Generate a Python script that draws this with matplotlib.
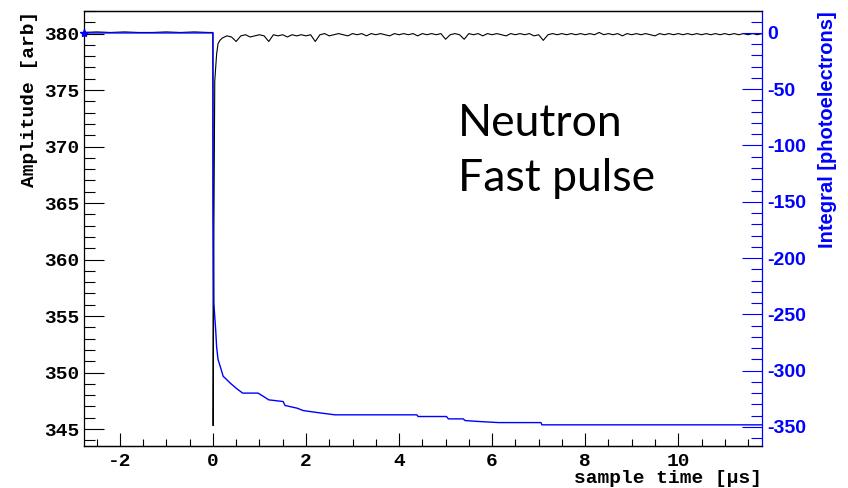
import numpy as np
import matplotlib
matplotlib.use("Agg")
import matplotlib.pyplot as plt
from matplotlib.ticker import MultipleLocator

plt.rcParams["axes.unicode_minus"] = False

# waveform (black), amplitude in arb units
pre_t = [-2.77, -2.5, -2.2, -1.9, -1.6, -1.3, -1.0, -0.7, -0.4, -0.1, 0.0]
pre_v = [380.1, 380.15, 380.1, 380.15, 380.1, 380.1, 380.15, 380.1, 380.15, 380.1, 380.1]

pulse_t = [0.005, 0.02, 0.04, 0.08, 0.11, 0.15]
pulse_v = [345.3, 362.0, 375.8, 378.2, 379.1, 379.4]

tail_t = np.round(np.arange(0.2, 11.85, 0.1), 2)
tail_v = [
    379.6, 379.8, 379.7, 379.3, 379.8, 379.9, 379.7, 379.8, 379.9,
    379.8, 379.3, 379.9, 379.8, 379.9, 379.7, 379.9, 379.8, 379.9, 379.8,
    379.9, 379.3, 379.9, 380.0, 379.8, 379.9, 380.0, 379.9, 379.8, 380.0,
    379.9, 380.0, 379.8, 380.0, 379.9, 380.0, 379.9, 379.8, 380.0, 379.9,
    380.0, 379.9, 380.0, 379.8, 380.0, 379.9, 380.0, 379.9, 380.0, 379.5,
    379.9, 380.0, 379.9, 379.5, 380.0, 379.9, 380.0, 379.8, 380.0, 379.9,
    380.0, 379.9, 379.8, 380.0, 379.9, 380.0, 379.9, 380.0, 379.8, 379.9,
    379.4, 379.9, 380.0, 379.9, 380.0, 379.9, 380.0, 379.9, 380.0, 379.9,
    380.0, 379.9, 380.1, 379.9, 380.0, 379.9, 380.0, 379.8, 380.0, 379.9,
    380.0, 379.9, 380.0, 379.9, 379.8, 380.0, 379.9, 380.0, 379.9, 380.0,
    379.9, 380.0, 379.9, 380.0, 379.9, 380.0, 379.9, 380.0, 379.9, 380.0,
    379.9, 380.0, 379.9, 380.0, 379.9, 380.0, 379.9, 380.0,
]

# running integral (blue), photoelectrons
int_t = [-2.77, 0.0, 0.005, 0.02, 0.06, 0.08, 0.11, 0.17, 0.22, 0.37, 0.51,
         0.64, 0.97, 1.05, 1.2, 1.51, 1.55, 1.81, 1.94, 2.23, 2.62, 4.38,
         4.41, 5.02, 5.06, 5.38, 5.42, 5.70, 6.14, 7.05, 7.07, 11.8]
int_v = [0, 0, -150, -240, -264, -279, -290, -298, -305, -311, -316,
         -320, -320, -322, -326, -327.5, -331, -333.4, -335.5, -337.2, -339.3, -339.3,
         -340.8, -340.8, -342.9, -342.9, -344.4, -345.2, -346.2, -346.2, -348.2, -348.2]

amp_t = list(pre_t) + list(pulse_t) + list(tail_t)
amp_v = list(pre_v) + list(pulse_v) + list(tail_v)

mono = "Liberation Mono"
sans = "Liberation Sans"

fig = plt.figure(figsize=(8.48, 4.88), dpi=100)
ax = fig.add_axes([84 / 848, 42 / 488, 678 / 848, 435 / 488])
ax2 = ax.twinx()

ax.plot(amp_t, amp_v, color="black", lw=0.8, zorder=3)
ax2.plot(int_t, int_v, color="#0000ff", lw=1.0)
ax2.plot(int_t[0], int_v[0], marker="*", color="#0000ff", ms=6, clip_on=False)

ax.set_xlim(-2.77, 11.8)
ax.set_ylim(343.5, 382)
ax2.set_ylim(-367, 19.5)

ax.xaxis.set_major_locator(MultipleLocator(2))
ax.xaxis.set_minor_locator(MultipleLocator(0.5))
ax.yaxis.set_major_locator(MultipleLocator(5))
ax.yaxis.set_minor_locator(MultipleLocator(1))
ax2.yaxis.set_major_locator(MultipleLocator(50))
ax2.yaxis.set_minor_locator(MultipleLocator(10))

ax.tick_params(axis="y", which="major", direction="in", length=14.4, width=0.8,
               right=False, pad=3.6)
ax.tick_params(axis="y", which="minor", direction="in", length=7.9, width=0.8, right=False)
ax.tick_params(axis="x", which="major", direction="in", length=9.1, width=0.8,
               top=False, pad=5)
ax.tick_params(axis="x", which="minor", direction="in", length=5, width=0.8, top=False)
ax2.tick_params(axis="y", which="major", direction="in", length=14.4, width=0.8,
                color="#0000ff", labelcolor="#0000ff", pad=4)
ax2.tick_params(axis="y", which="minor", direction="in", length=7.9, width=0.8,
                color="#0000ff")

for lab in ax.get_xticklabels() + ax.get_yticklabels():
    lab.set_fontfamily(mono)
    lab.set_fontweight("bold")
    lab.set_fontsize(14)
for lab in ax2.get_yticklabels():
    lab.set_fontfamily(sans)
    lab.set_fontweight("bold")
    lab.set_fontsize(14)

ax.spines["right"].set_visible(False)
ax2.spines["left"].set_visible(False)
ax2.spines["right"].set_color("#0000ff")
for sp in ax.spines.values():
    sp.set_linewidth(0.9)
for sp in ax2.spines.values():
    sp.set_linewidth(0.9)

ax.set_ylabel("Amplitude [arb]", loc="top", fontfamily=mono, fontweight="bold", fontsize=14)
ax.yaxis.set_label_coords(-0.068, 1.0)
ax.set_xlabel("sample time [\u00b5s]", loc="right", fontfamily=mono, fontweight="bold",
              fontsize=14)
ax.xaxis.set_label_coords(1.0, -0.055)
ax2.set_ylabel("Integral [photoelectrons]", loc="top", fontfamily=sans, fontweight="bold",
               fontsize=14.5, color="#0000ff")
ax2.yaxis.set_label_coords(1.0826, 1.0)

ax.text(0.5516, 0.7126, "Neutron", transform=ax.transAxes, fontfamily="Lato",
        fontsize=32, va="baseline", ha="left")
ax.text(0.5516, 0.5862, "Fast pulse", transform=ax.transAxes, fontfamily="Lato",
        fontsize=32, va="baseline", ha="left")

fig.savefig("out.png", dpi=100)
